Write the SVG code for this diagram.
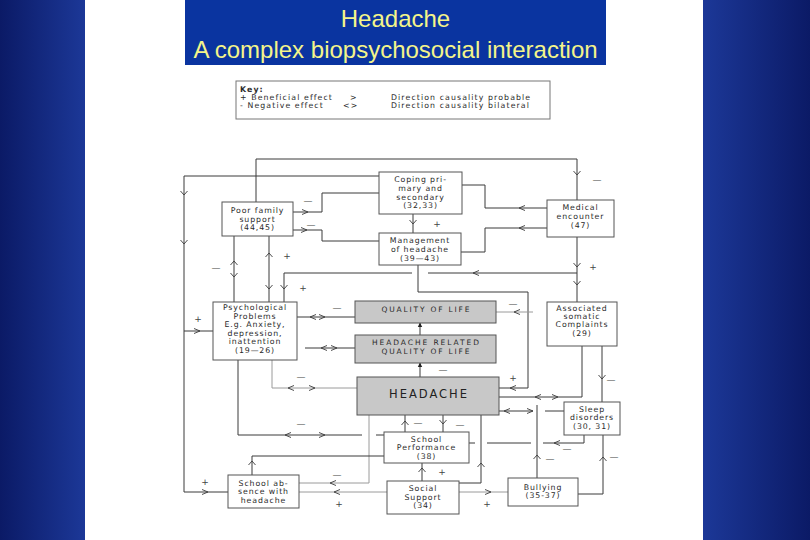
<svg xmlns="http://www.w3.org/2000/svg" width="810" height="540" viewBox="0 0 810 540">
<defs>
<linearGradient id="bgL" x1="0" y1="0" x2="1" y2="0"><stop offset="0" stop-color="#0b1a66"/><stop offset="1" stop-color="#1c3898"/></linearGradient>
<linearGradient id="bgR" x1="0" y1="0" x2="1" y2="0"><stop offset="0" stop-color="#1c3898"/><stop offset="1" stop-color="#0b1a66"/></linearGradient>
<path id="cd" d="M-3.5,-2 L0,2 L3.5,-2"/>
<path id="cu" d="M-3.5,2 L0,-2 L3.5,2"/>
<path id="cl" d="M3,-2.5 L-3,0 L3,2.5"/>
<path id="cr" d="M-3,-2.5 L3,0 L-3,2.5"/>
<path id="fu" d="M0,-3.5 L2.2,1 L-2.2,1 Z"/>
</defs>
<style>
.ln{fill:none;stroke:#3a3a3a;stroke-width:1}
.lt{fill:none;stroke:#9a9a9a;stroke-width:1}
.ch use{fill:none;stroke:#3a3a3a;stroke-width:0.9}
.box{fill:#ffffff;stroke:#555555;stroke-width:1}
.gbox{fill:#c8c8c8;stroke:#555555;stroke-width:1}
.nt{font-family:"DejaVu Sans",Verdana,sans-serif;font-size:7.8px;letter-spacing:0.9px;fill:#2a2a2a;text-anchor:middle}
.gt{font-family:"DejaVu Sans",Verdana,sans-serif;font-size:7.5px;fill:#2a2a2a;text-anchor:middle}
.sg{font-family:"DejaVu Sans",Verdana,sans-serif;font-size:9px;fill:#444444;text-anchor:middle}
.kt{font-family:"DejaVu Sans",Verdana,sans-serif;font-size:7.8px;letter-spacing:1.1px;fill:#2a2a2a}
.tt{font-family:"Liberation Sans",Arial,sans-serif;font-size:24px;fill:#f4f48a;text-anchor:middle}
</style>
<rect x="0" y="0" width="86" height="540" fill="url(#bgL)"/>
<rect x="702" y="0" width="108" height="540" fill="url(#bgR)"/>
<rect x="85" y="0" width="618" height="540" fill="#ffffff"/>
<g id="title">
<rect x="185" y="0" width="421" height="65" fill="#0a34a0"/>
<text class="tt" x="395.5" y="27">Headache</text>
<text class="tt" x="395.5" y="58">A complex biopsychosocial interaction</text>
</g>
<g id="key">
<rect x="236" y="81" width="314" height="38" fill="#ffffff" stroke="#777777" stroke-width="1"/>
<text class="kt" x="240" y="91.5" font-weight="bold">Key:</text>
<text class="kt" x="240" y="99.5">+ Beneficial effect</text>
<text class="kt" x="240" y="107.5">-  Negative effect</text>
<text class="kt" x="350" y="99.5">&gt;</text>
<text class="kt" x="343" y="107.5">&lt;&gt;</text>
<text class="kt" x="391" y="99.5">Direction causality probable</text>
<text class="kt" x="391" y="107.5">Direction causality bilateral</text>
</g>
<g id="connectors">
<path class="ln" d="M379,176 H184 V492 H228"/>
<path class="ln" d="M184,331 H213"/>
<path class="ln" d="M256,202 V159 H577 V200"/>
<path class="ln" d="M293,212 H322 V193 H379"/>
<path class="ln" d="M293,230 H322 V241 H379"/>
<path class="ln" d="M461,185 H485 V208 H547"/>
<path class="ln" d="M461,252 H485 V228 H547"/>
<path class="ln" d="M413,214 V233"/>
<path class="ln" d="M577,237 V302"/>
<path class="ln" d="M577,273 H428 M412,273 H284 V302"/>
<path class="ln" d="M234,236 V302"/>
<path class="ln" d="M269,236 V302"/>
<path class="ln" d="M418,265 V292 H528 V388 H499"/>
<path class="ln" d="M297,317 H355"/>
<path class="ln" d="M305,348 H355"/>
<path class="lt" d="M272,360 V388 H357"/>
<path class="ln" d="M238,360 V435 H362 M376,435 H384"/>
<path class="lt" d="M369,415 V483 H299"/>
<path class="ln" d="M252,475 V456 H384"/>
<path class="lt" d="M387,492 H299"/>
<path class="ln" d="M422,481 V463"/>
<path class="ln" d="M459,483 H481 V415"/>
<path class="lt" d="M459,492 H508"/>
<path class="ln" d="M405,415 V432 M443,415 V432"/>
<path class="ln" d="M420,377 V363 M420,335 V323"/>
<path class="lt" d="M496,312 H533"/>
<path class="ln" d="M499,397 H582 V346"/>
<path class="ln" d="M602,346 V402"/>
<path class="ln" d="M499,411 H533 M545,411 H564"/>
<path class="ln" d="M537,478 V405"/>
<path class="ln" d="M578,494 H603 V435"/>
<path class="ln" d="M584,435 V443 H543 M531,443 H487 M475,443 H469"/>
<g class="ch">
<use href="#cd" x="184" y="193"/>
<use href="#cd" x="184" y="242"/>
<use href="#cd" x="577" y="173"/>
<use href="#cr" x="305" y="212"/>
<use href="#cr" x="304" y="230"/>
<use href="#cl" x="522" y="208"/>
<use href="#cl" x="522" y="228"/>
<use href="#cd" x="413" y="222"/>
<use href="#cd" x="577" y="265"/>
<use href="#cd" x="577" y="283"/>
<use href="#cl" x="476" y="273"/>
<use href="#cu" x="234" y="263"/>
<use href="#cd" x="234" y="275"/>
<use href="#cu" x="269" y="255"/>
<use href="#cd" x="269" y="287"/>
<use href="#cd" x="284" y="287"/>
<use href="#cr" x="197" y="331"/>
<use href="#cl" x="313" y="317"/>
<use href="#cr" x="322" y="317"/>
<use href="#cl" x="324" y="348"/>
<use href="#cr" x="334" y="348"/>
<use href="#cl" x="291" y="388"/>
<use href="#cr" x="312" y="388"/>
<use href="#cl" x="288" y="435"/>
<use href="#cr" x="322" y="435"/>
<use href="#cl" x="517" y="312"/>
<use href="#cl" x="513" y="388"/>
<use href="#cl" x="538" y="397"/>
<use href="#cr" x="555" y="397"/>
<use href="#cl" x="507" y="411"/>
<use href="#cr" x="530" y="411"/>
<use href="#cd" x="602" y="377"/>
<use href="#cu" x="405" y="423"/>
<use href="#cd" x="443" y="422"/>
<use href="#cl" x="557" y="443"/>
<use href="#cu" x="537" y="457"/>
<use href="#cu" x="603" y="459"/>
<use href="#cu" x="422" y="470"/>
<use href="#cu" x="481" y="465"/>
<use href="#cr" x="488" y="492"/>
<use href="#cu" x="252" y="463"/>
<use href="#cr" x="205" y="492"/>
<use href="#cl" x="333" y="483"/>
<use href="#cl" x="337" y="492"/>
</g>
<use href="#fu" x="420" y="326" fill="#222222"/>
<use href="#fu" x="420" y="366" fill="#222222"/>
<g id="signs">
<text class="sg" x="597" y="183">—</text>
<text class="sg" x="308" y="204">—</text>
<text class="sg" x="311" y="228" fill="#888888">—</text>
<text class="sg" x="437" y="227">+</text>
<text class="sg" x="593" y="270">+</text>
<text class="sg" x="216" y="271">—</text>
<text class="sg" x="287" y="259">+</text>
<text class="sg" x="303" y="291">+</text>
<text class="sg" x="198" y="322">+</text>
<text class="sg" x="337" y="311">—</text>
<text class="sg" x="301" y="380">—</text>
<text class="sg" x="301" y="427">—</text>
<text class="sg" x="513" y="307" fill="#888888">—</text>
<text class="sg" x="513" y="381">+</text>
<text class="sg" x="443" y="373" fill="#888888">—</text>
<text class="sg" x="611" y="383">—</text>
<text class="sg" x="418" y="426" fill="#888888">—</text>
<text class="sg" x="460" y="428" fill="#888888">—</text>
<text class="sg" x="567" y="452">—</text>
<text class="sg" x="550" y="462" fill="#888888">—</text>
<text class="sg" x="614" y="460">—</text>
<text class="sg" x="442" y="475">+</text>
<text class="sg" x="487" y="507">+</text>
<text class="sg" x="205" y="485" fill="#888888">+</text>
<text class="sg" x="337" y="478">—</text>
<text class="sg" x="339" y="507">+</text>
</g>
</g>
<g id="coping">
<rect class="box" x="379" y="172" width="83" height="42"/>
<text class="nt" x="420.5" y="182">Coping pri-</text>
<text class="nt" x="420.5" y="191">mary and</text>
<text class="nt" x="420.5" y="199.5">secondary</text>
<text class="nt" x="420.5" y="208">(32,33)</text>
</g>
<g id="poorfamily">
<rect class="box" x="222" y="202" width="71" height="34"/>
<text class="nt" x="257.5" y="213">Poor family</text>
<text class="nt" x="257.5" y="221.5">support</text>
<text class="nt" x="257.5" y="230">(44,45)</text>
</g>
<g id="medical">
<rect class="box" x="547" y="200" width="67" height="37"/>
<text class="nt" x="580.5" y="210">Medical</text>
<text class="nt" x="580.5" y="219">encounter</text>
<text class="nt" x="580.5" y="227.5">(47)</text>
</g>
<g id="management">
<rect class="box" x="379" y="233" width="82" height="32"/>
<text class="nt" x="420" y="243">Management</text>
<text class="nt" x="420" y="251.5">of headache</text>
<text class="nt" x="420" y="260.5">(39—43)</text>
</g>
<g id="psych">
<rect class="box" x="213" y="302" width="84" height="58"/>
<text class="nt" x="255" y="310">Psychological</text>
<text class="nt" x="255" y="318.5">Problems</text>
<text class="nt" x="255" y="327">E.g. Anxiety,</text>
<text class="nt" x="255" y="335.5">depression,</text>
<text class="nt" x="255" y="344">inattention</text>
<text class="nt" x="255" y="352.5">(19—26)</text>
</g>
<g id="qol">
<rect class="gbox" x="355" y="301" width="141" height="22"/>
<text class="gt" x="425.5" y="312" textLength="88" lengthAdjust="spacing">QUALITY OF LIFE</text>
</g>
<g id="hrqol">
<rect class="gbox" x="355" y="335" width="141" height="28"/>
<text class="gt" x="425.5" y="345" textLength="107" lengthAdjust="spacing">HEADACHE RELATED</text>
<text class="gt" x="425.5" y="353.5" textLength="88" lengthAdjust="spacing">QUALITY OF LIFE</text>
</g>
<g id="assoc">
<rect class="box" x="547" y="302" width="70" height="44"/>
<text class="nt" x="582" y="311">Associated</text>
<text class="nt" x="582" y="319">somatic</text>
<text class="nt" x="582" y="327">Complaints</text>
<text class="nt" x="582" y="335.5">(29)</text>
</g>
<g id="headache">
<rect class="gbox" x="357" y="377" width="142" height="38" fill="#c4c4c4"/>
<text x="428" y="398" font-family="DejaVu Sans, Verdana, sans-serif" font-size="11.5" fill="#222222" text-anchor="middle" textLength="78" lengthAdjust="spacing">HEADACHE</text>
</g>
<g id="sleep">
<rect class="box" x="564" y="402" width="56" height="33"/>
<text class="nt" x="592" y="411.5">Sleep</text>
<text class="nt" x="592" y="420">disorders</text>
<text class="nt" x="592" y="428.5">(30, 31)</text>
</g>
<g id="schoolperf">
<rect class="box" x="384" y="432" width="85" height="31"/>
<text class="nt" x="426.5" y="441.5">School</text>
<text class="nt" x="426.5" y="450">Performance</text>
<text class="nt" x="426.5" y="458.5">(38)</text>
</g>
<g id="schoolabsence">
<rect class="box" x="228" y="475" width="71" height="33"/>
<text class="nt" x="263.5" y="485.5">School ab-</text>
<text class="nt" x="263.5" y="494">sence with</text>
<text class="nt" x="263.5" y="502.5">headache</text>
</g>
<g id="social">
<rect class="box" x="387" y="481" width="72" height="33"/>
<text class="nt" x="423" y="491">Social</text>
<text class="nt" x="423" y="499.5">Support</text>
<text class="nt" x="423" y="508">(34)</text>
</g>
<g id="bullying">
<rect class="box" x="508" y="478" width="70" height="28"/>
<text class="nt" x="543" y="489.5">Bullying</text>
<text class="nt" x="543" y="497.5">(35-37)</text>
</g>
</svg>
